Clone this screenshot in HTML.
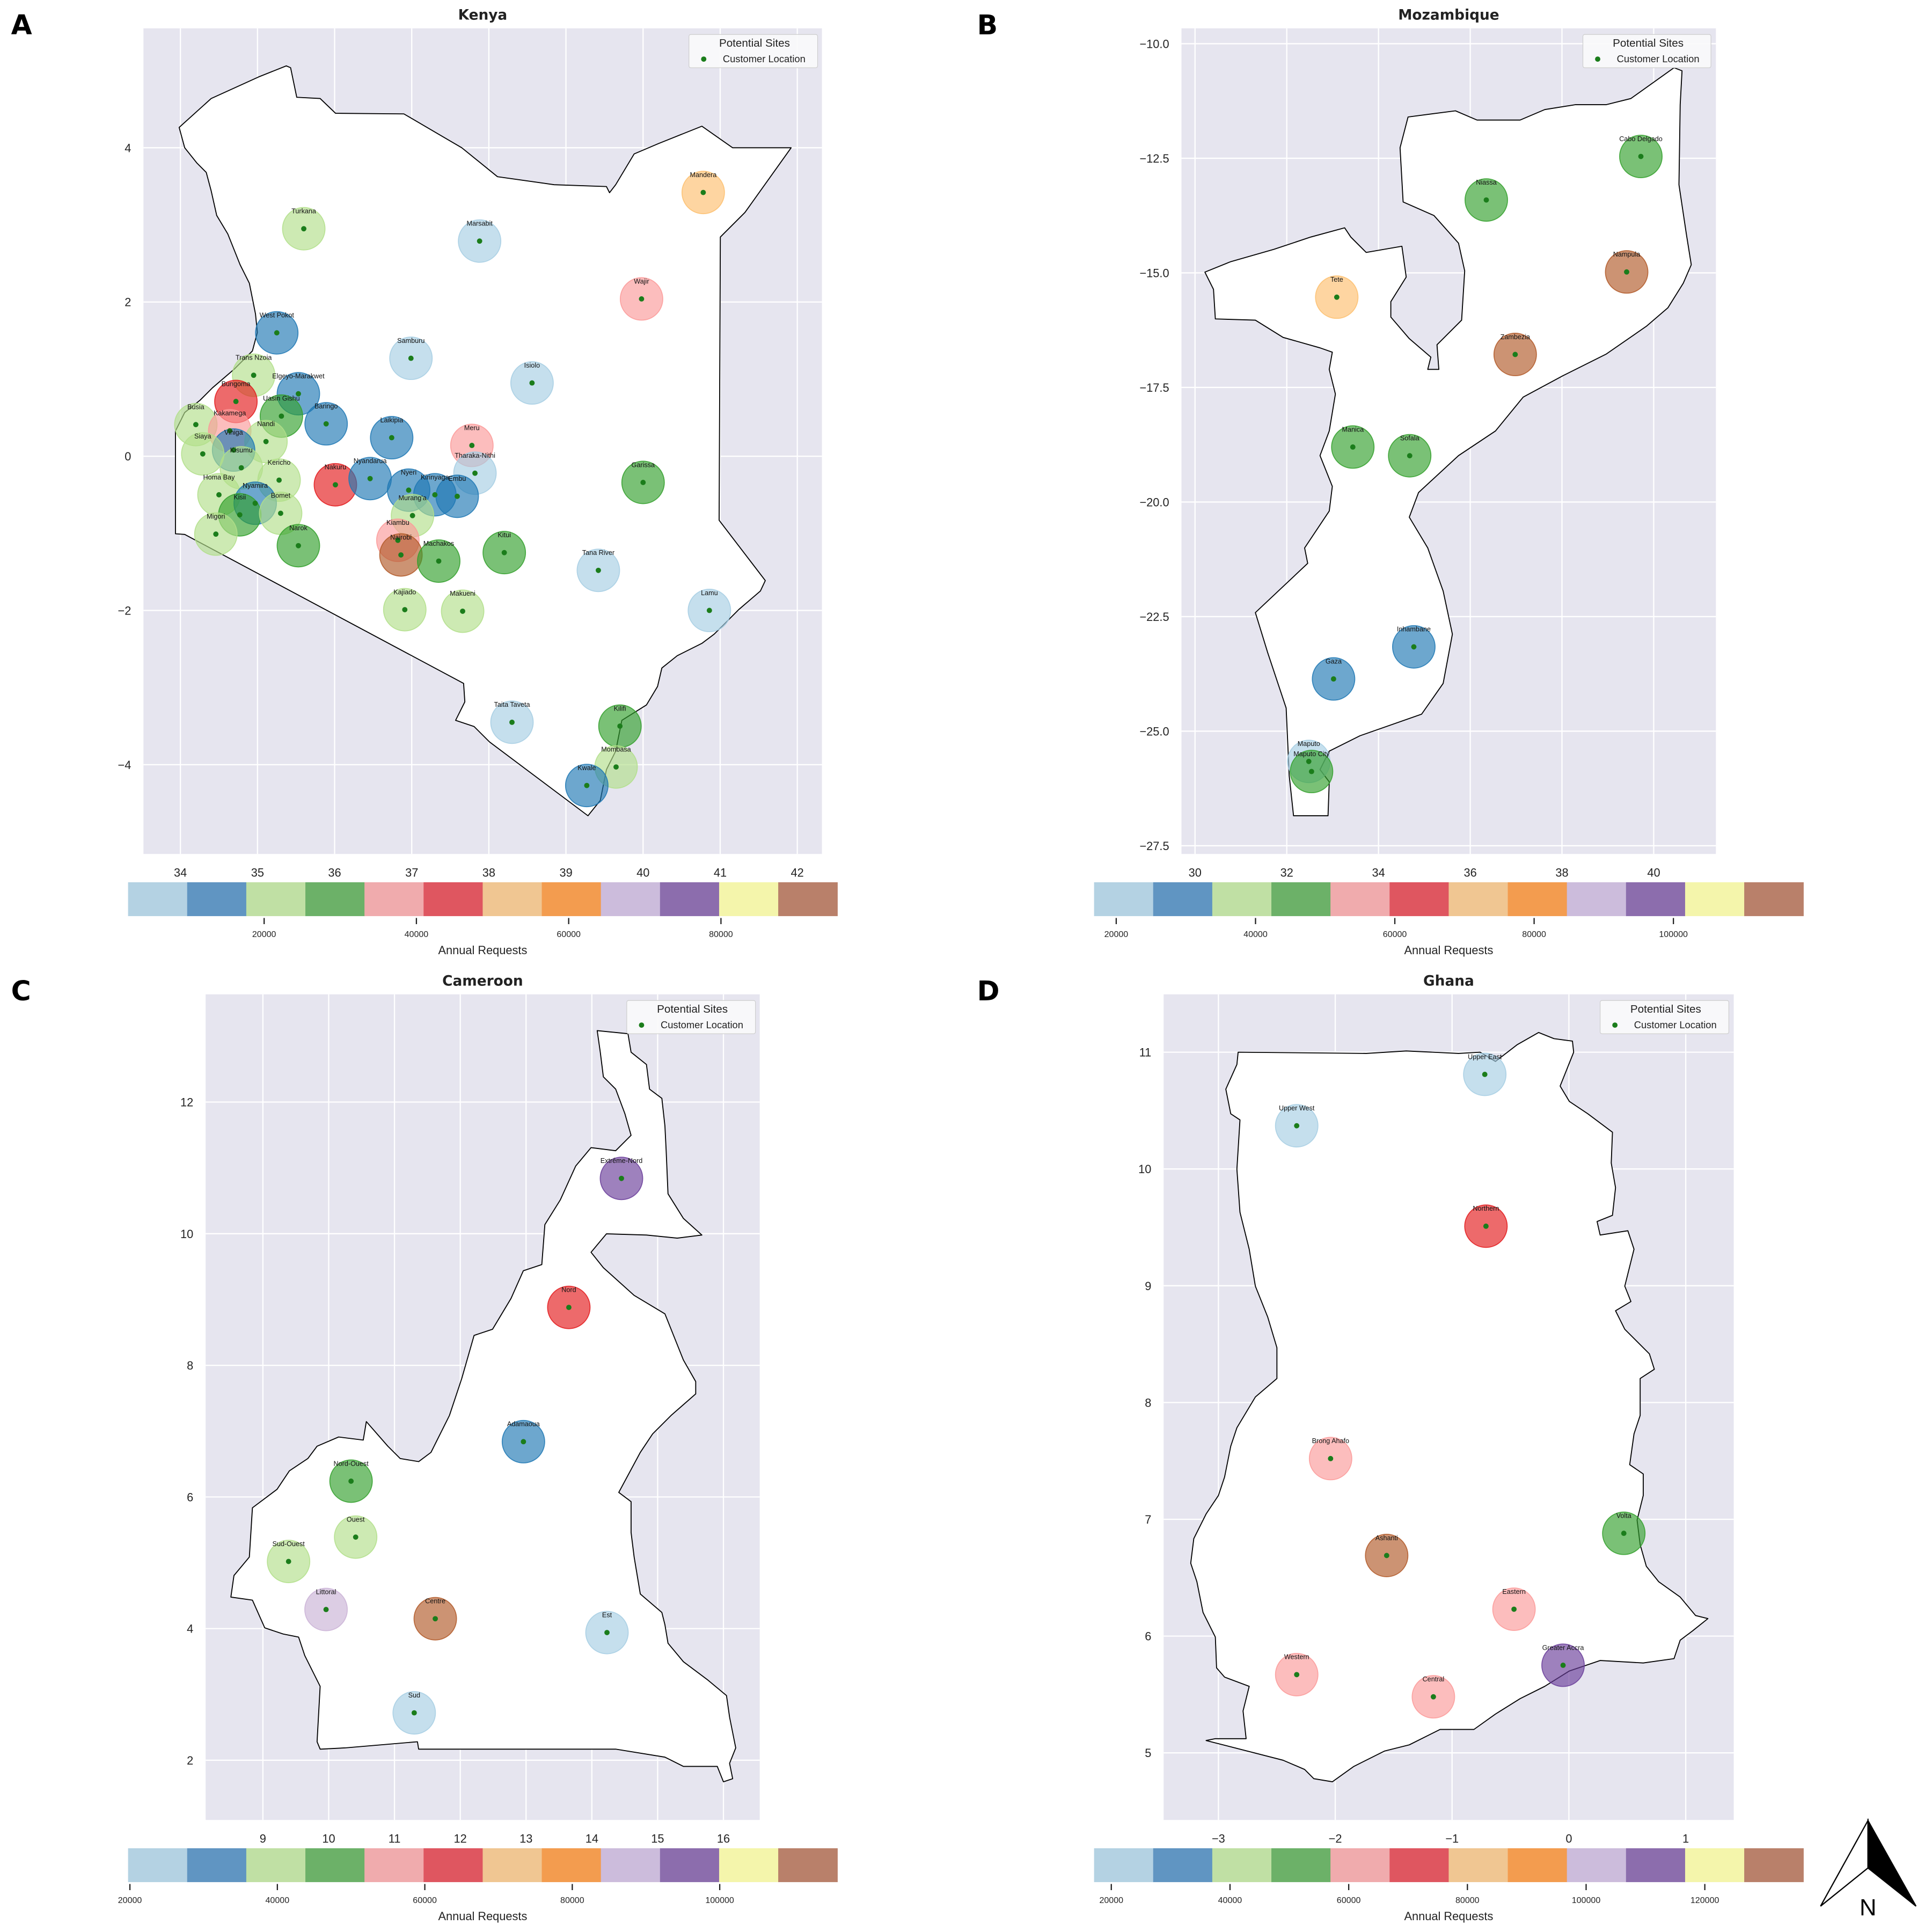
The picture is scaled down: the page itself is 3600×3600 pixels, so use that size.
<!DOCTYPE html>
<html><head><meta charset="utf-8">
<style>html,body{margin:0;padding:0;background:#fff}svg{display:block}</style>
</head><body>
<svg id="fig" xmlns="http://www.w3.org/2000/svg" width="3600" height="3600" viewBox="0 0 3600 3600">
<rect width="3600" height="3600" fill="#fff"/>
</svg>
<script>
// ===== Data =====
const kenyaNames=["Turkana","Marsabit","Mandera","Wajir","West Pokot","Samburu","Isiolo","Trans Nzoia","Elgeyo-Marakwet","Bungoma","Uasin Gishu","Baringo","Busia","Kakamega","Laikipia","Nandi","Meru","Vihiga","Siaya","Kisumu","Tharaka-Nithi","Kericho","Nakuru","Nyandarua","Nyeri","Kirinyaga","Embu","Garissa","Homa Bay","Nyamira","Kisii","Bomet","Murang'a","Migori","Kiambu","Narok","Nairobi","Machakos","Kitui","Tana River","Kajiado","Makueni","Lamu","Taita Taveta","Kilifi","Mombasa","Kwale"];
const kenyaLon=[35.60,37.88,40.78,39.98,35.25,36.99,38.56,34.95,35.53,34.72,35.31,35.89,34.20,34.64,36.74,35.11,37.78,34.69,34.29,34.79,37.82,35.28,36.01,36.46,36.96,37.30,37.59,40.00,34.50,34.97,34.77,35.30,37.01,34.46,36.82,35.53,36.86,37.35,38.20,39.42,36.91,37.66,40.86,38.30,39.70,39.65,39.27];
const kenyaLat=[2.95,2.79,3.42,2.04,1.60,1.27,0.95,1.05,0.81,0.71,0.52,0.42,0.41,0.33,0.24,0.19,0.14,0.08,0.03,-0.15,-0.22,-0.31,-0.37,-0.29,-0.44,-0.50,-0.52,-0.34,-0.50,-0.61,-0.76,-0.74,-0.77,-1.01,-1.09,-1.16,-1.28,-1.36,-1.25,-1.48,-1.99,-2.01,-2.00,-3.45,-3.50,-4.03,-4.27];
const kenyaReq=[21500,6000,52600,37000,13800,6000,6000,21500,13800,44800,29300,13800,21500,37000,13800,21500,37000,13800,21500,21500,6000,21500,44800,13800,13800,13800,13800,29300,21500,13800,29300,21500,21500,21500,37000,29300,91400,29300,29300,6000,21500,21500,6000,6000,29300,21500,13800];

const mozNames=["Cabo Delgado","Niassa","Nampula","Tete","Zambezia","Manica","Sofala","Inhambane","Gaza","Maputo","Maputo City"];
const mozLon=[39.72,36.35,39.41,33.09,36.98,33.44,34.68,34.77,33.02,32.48,32.54];
const mozLat=[-12.46,-13.41,-14.98,-15.53,-16.78,-18.80,-18.99,-23.16,-23.86,-25.66,-25.88];
const mozReq=[46500,46500,114400,72000,114400,46500,46500,29500,29500,21000,46500];

const camNames=["Extrême-Nord","Nord","Adamaoua","Nord-Ouest","Ouest","Sud-Ouest","Littoral","Centre","Est","Sud"];
const camLon=[14.45,13.65,12.96,10.34,10.41,9.39,9.96,11.62,14.23,11.30];
const camLat=[10.84,8.88,6.84,6.24,5.39,5.02,4.29,4.15,3.94,2.72];
const camReq=[95900,63800,31800,47800,39800,39800,87900,111900,23800,23800];

const ghaNames=["Upper East","Upper West","Northern","Brong Ahafo","Ashanti","Volta","Eastern","Western","Central","Greater Accra"];
const ghaLon=[-0.72,-2.33,-0.71,-2.04,-1.56,0.47,-0.47,-2.33,-1.16,-0.05];
const ghaLat=[10.81,10.37,9.51,7.52,6.69,6.88,6.23,5.67,5.48,5.75];
const ghaReq=[22000,22000,71900,61900,131600,52000,61900,61900,61900,111700];

const kenyaXTicks=[34,35,36,37,38,39,40,41,42];
const kenyaYTicks=[-4,-2,0,2,4];
const kenyaCbTicks=[20000,40000,60000,80000];
const mozXTicks=[30,32,34,36,38,40];
const mozYTicks=[-10,-12.5,-15,-17.5,-20,-22.5,-25,-27.5];
const mozCbTicks=[20000,40000,60000,80000,100000];
const camXTicks=[9,10,11,12,13,14,15,16];
const camYTicks=[2,4,6,8,10,12];
const camCbTicks=[20000,40000,60000,80000,100000];
const ghaXTicks=[-3,-2,-1,0,1];
const ghaYTicks=[5,6,7,8,9,10,11];
const ghaCbTicks=[20000,40000,60000,80000,100000,120000];
const cbMin=[2129,16818,19750,17095];
const cbMax=[95283,118652,115950,136598];

// ===== Styles / geometry =====
const NS="http://www.w3.org/2000/svg";
const svg=document.getElementById('fig');
const cbColors=["#b4d2e3","#6095c2","#c0e0a4","#6cb168","#f0abad","#df5660","#f0c692","#f39c4f","#ccbcdc","#8c6dad","#f4f5ab","#b9806a"];
const paired=["#a6cee3","#1f78b4","#b2df8a","#33a02c","#fb9a99","#e31a1c","#fdbf6f","#ff7f00","#cab2d6","#6a3d9a","#ffff99","#b15928"];
const SANS='"Liberation Sans", Arial, sans-serif';
const BOLD='"DejaVu Sans", "Liberation Sans", sans-serif';
function el(tag,attrs,parent){const e=document.createElementNS(NS,tag);for(const k in attrs)e.setAttribute(k,attrs[k]);(parent||svg).appendChild(e);return e;}
function fmt(v){return v<0?"\u2212"+String(Math.abs(v)):String(v);}

const outlines={
kenya:"291,207 343,160 420,125 465,107 472,110 482,158 520,160 545,184 656,185 750,240 808,287 900,300 985,303 990,313 1000,300 1030,250 1070,233 1140,205 1190,240 1285,240 1210,345 1170,385 1168,845 1243,943 1235,960 1200,990 1160,1030 1140,1045 1100,1065 1075,1085 1068,1115 1050,1145 1010,1170 1000,1220 985,1250 975,1300 955,1325 795,1205 770,1180 740,1170 755,1140 753,1110 300,868 285,867 285,700 300,670 325,650 345,630 380,600 410,570 418,540 415,510 405,460 390,430 370,380 352,350 343,310 335,280 320,265 300,240",
moz:"388,442 430,425 500,405 560,385 615,370 625,385 650,410 708,400 715,450 690,490 690,515 720,550 755,580 750,600 768,600 765,560 805,520 810,440 800,395 760,350 710,328 705,240 718,190 795,180 830,195 900,195 940,178 990,170 1040,170 1080,160 1150,110 1163,115 1160,170 1158,300 1170,380 1178,430 1165,460 1140,500 1105,530 1040,575 970,610 905,645 860,700 800,740 735,800 720,840 750,890 775,960 790,1030 775,1110 740,1160 640,1195 590,1220 575,1250 590,1270 588,1325 532,1325 525,1260 520,1150 490,1060 470,995 555,915 550,890 590,830 595,790 575,740 590,700 600,640 590,600 595,572 575,565 515,548 470,520 405,518 402,470",
cam:"970,105 1020,110 1025,140 1050,160 1055,200 1075,215 1080,260 1082,300 1085,370 1110,410 1140,437 1100,442 1050,437 985,435 960,465 980,490 1030,535 1080,565 1110,640 1130,675 1130,695 1090,730 1060,760 1040,790 1005,855 1025,870 1025,920 1030,960 1040,1020 1075,1050 1080,1070 1085,1100 1110,1130 1150,1160 1180,1185 1185,1220 1195,1270 1185,1295 1190,1320 1175,1325 1165,1300 1110,1300 1080,1285 1000,1272 680,1272 678,1260 560,1270 520,1272 515,1260 520,1170 495,1120 485,1090 460,1085 430,1075 410,1030 375,1025 380,990 405,960 410,880 450,850 470,820 500,800 515,780 550,765 590,770 595,740 630,780 650,800 680,805 700,790 730,730 750,670 770,600 800,590 830,540 850,495 880,485 885,420 910,380 935,325 960,295 1000,300 1025,275 1015,240 1000,200 980,180 975,140",
gha:"442,140 650,142 715,138 800,142 835,140 860,155 895,128 930,108 955,118 985,122 987,140 975,170 965,195 980,220 1010,240 1050,270 1048,320 1055,360 1050,405 1025,415 1030,437 1075,430 1085,460 1070,520 1080,545 1055,560 1070,590 1110,630 1118,655 1095,670 1095,730 1085,760 1078,810 1100,825 1100,860 1090,900 1095,940 1105,975 1125,1000 1160,1025 1185,1055 1205,1060 1180,1080 1160,1095 1150,1125 1100,1132 1030,1128 980,1145 940,1170 900,1190 860,1215 825,1240 770,1240 720,1265 680,1275 630,1300 595,1325 565,1320 550,1305 515,1290 390,1258 405,1255 455,1255 450,1210 460,1170 420,1155 407,1140 405,1090 385,1050 375,1000 365,970 370,930 390,890 410,860 420,830 430,780 440,750 470,700 505,670 505,620 490,570 470,520 460,460 445,400 440,330 445,250 430,240 422,200 440,160"
};

const panels=[
 {key:'kenya',letter:'A',title:'Kenya',ox:0,oy:0,ax:[233,46,1335,1387],x0:293,lon0:34,sx:125.25,y0:240,lat0:4,sy:125.25,
  names:kenyaNames,lon:kenyaLon,lat:kenyaLat,req:kenyaReq,xt:kenyaXTicks,yt:kenyaYTicks,cbt:kenyaCbTicks,leg:[1119,1328]},
 {key:'moz',letter:'B',title:'Mozambique',ox:1800,oy:0,ax:[350,46,1218,1387],x0:372,lon0:30,sx:74.5,y0:71,lat0:-10,sy:74.44,
  names:mozNames,lon:mozLon,lat:mozLat,req:mozReq,xt:mozXTicks,yt:mozYTicks,cbt:mozCbTicks,leg:[1002,1210]},
 {key:'cam',letter:'C',title:'Cameroon',ox:0,oy:1800,ax:[334,46,1234,1387],x0:427,lon0:9,sx:106.86,y0:221,lat0:12,sy:106.9,
  names:camNames,lon:camLon,lat:camLat,req:camReq,xt:camXTicks,yt:camYTicks,cbt:camCbTicks,leg:[1018,1227]},
 {key:'gha',letter:'D',title:'Ghana',ox:1800,oy:1800,ax:[321,46,1247,1387],x0:410,lon0:-3,sx:189.75,y0:140,lat0:11,sy:189.67,
  names:ghaNames,lon:ghaLon,lat:ghaLat,req:ghaReq,xt:ghaXTicks,yt:ghaYTicks,cbt:ghaCbTicks,leg:[1030,1239]}
];
const S=1800/1569;

panels.forEach((p,pi)=>{
  const g=el('g',{transform:`translate(${p.ox},${p.oy}) scale(${S})`});
  
  
  const X=v=>p.x0+(v-p.lon0)*p.sx;
  const Y=v=>p.y0-(v-p.lat0)*p.sy;
  const [l,t,r,b]=p.ax;
  const clipId='clip'+pi;
  const cp=el('clipPath',{id:clipId},g);el('rect',{x:l,y:t,width:r-l,height:b-t},cp);

  const letter=el('text',{x:18,y:56,'font-family':BOLD,'font-weight':'bold','font-size':44,fill:'#000'},g);letter.textContent=p.letter;
  
  const title=el('text',{x:784,y:32,'text-anchor':'middle','font-family':BOLD,'font-weight':'bold','font-size':23,fill:'#222'},g);title.textContent=p.title;
  

  const bg=el('rect',{x:l,y:t,width:r-l,height:b-t,fill:'#e6e5ef'},g);
  
  p.xt.forEach(v=>{const ln=el('line',{x1:X(v),x2:X(v),y1:t,y2:b,stroke:'#fff','stroke-width':2},g);
    
    const tx=el('text',{x:X(v),y:1424,'text-anchor':'middle','font-family':SANS,'font-size':19,fill:'#222'},g);tx.textContent=fmt(v);
    });
  p.yt.forEach(v=>{const ln=el('line',{x1:l,x2:r,y1:Y(v),y2:Y(v),stroke:'#fff','stroke-width':2},g);
    
    const tx=el('text',{x:l-20,y:Y(v)+7,'text-anchor':'end','font-family':SANS,'font-size':19,fill:'#222'},g);
    tx.textContent=(p.key==='moz')?fmt(v).replace(/^(\u2212?\d+)$/,'$1.0'):fmt(v);
    });

  const inner=el('g',{'clip-path':`url(#${clipId})`},g);
  const poly=el('polygon',{points:outlines[p.key],fill:'#fff',stroke:'#000','stroke-width':1.6,'stroke-linejoin':'round'},inner);
  

  const vmin=cbMin[pi],vmax=cbMax[pi];
  const bin=v=>Math.max(0,Math.min(11,Math.floor((v-vmin)/(vmax-vmin)*12)));
  p.names.forEach((n,i)=>{
    const cx=X(p.lon[i]),cy=Y(p.lat[i]);const c=paired[bin(p.req[i])];
    const circ=el('circle',{cx:cx,cy:cy,r:34.5,fill:c,'fill-opacity':0.65,stroke:c,'stroke-opacity':0.85,'stroke-width':1.5},inner);
    
  });
  p.names.forEach((n,i)=>{
    const cx=X(p.lon[i]),cy=Y(p.lat[i]);
    const dot=el('circle',{cx:cx,cy:cy,r:4.3,fill:'#1b7d1b'},inner);
    
    const lb=el('text',{x:cx,y:cy-25,'text-anchor':'middle','font-family':SANS,'font-size':11,fill:'#111'},inner);lb.textContent=n;
    
  });

  // legend
  const [ll,lr]=p.leg;
  const lg=el('g',{},g);
  el('rect',{x:ll,y:56,width:lr-ll,height:54,rx:3,fill:'#f9f9fb','fill-opacity':0.9,stroke:'#cccccc','stroke-width':1},lg);
  const lt=el('text',{x:(ll+lr)/2+2,y:76,'text-anchor':'middle','font-family':SANS,'font-size':18,fill:'#222'},lg);lt.textContent='Potential Sites';
  
  const ld=el('circle',{cx:ll+24,cy:96,r:4.3,fill:'#1b7d1b'},lg);
  
  const le=el('text',{x:ll+55,y:101,'font-family':SANS,'font-size':16,fill:'#222'},lg);le.textContent='Customer Location';
  

  // colorbar
  const cbL=208,cbR=1360,cbT=1433,cbB=1488,w=(cbR-cbL)/12;
  const CX=v=>cbL+(v-vmin)/(vmax-vmin)*(cbR-cbL);
  cbColors.forEach((c,k)=>{const rc=el('rect',{x:cbL+k*w,y:cbT,width:w+0.6,height:cbB-cbT,fill:c},g);
    });
  p.cbt.forEach(v=>{el('line',{x1:CX(v),x2:CX(v),y1:cbB+3,y2:cbB+13,stroke:'#222','stroke-width':2},g);
    const tx=el('text',{x:CX(v),y:1522,'text-anchor':'middle','font-family':SANS,'font-size':14,fill:'#222'},g);tx.textContent=String(v);
    });
  const cl=el('text',{x:784,y:1550,'text-anchor':'middle','font-family':SANS,'font-size':19,fill:'#222'},g);cl.textContent='Annual Requests';
  

  if(p.key==='gha'){
    const na=el('g',{},g);
    el('polygon',{points:'1465,1388 1388,1527 1465,1465',fill:'#fff',stroke:'#000','stroke-width':2},na);
    el('polygon',{points:'1465,1388 1543,1527 1465,1465',fill:'#000',stroke:'#000','stroke-width':2},na);
    const nt=el('text',{x:1465,y:1542,'text-anchor':'middle','font-family':SANS,'font-size':38,fill:'#000'},na);nt.textContent='N';
  }
});
</script>
</body></html>
